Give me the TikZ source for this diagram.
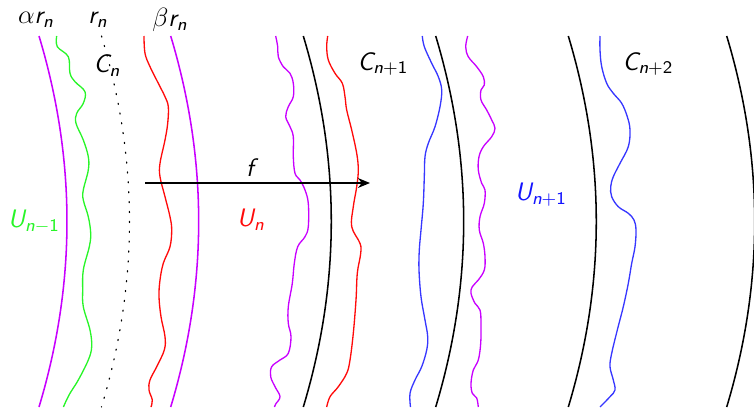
\documentclass[tikz,border=0pt]{standalone}
\usepackage{amstext}
\usetikzlibrary{arrows.meta}
\definecolor{mag}{RGB}{200,0,255}
\definecolor{grn}{RGB}{40,245,40}
\definecolor{redc}{RGB}{255,10,10}
\definecolor{blu}{RGB}{55,55,255}
\definecolor{blul}{RGB}{20,20,255}
\newcommand\sv[1]{\textsf{\itshape #1}}
\begin{document}
\begin{tikzpicture}[x=0.4545pt,y=-0.4545pt,
  arcline/.style={line width=0.7pt},
  lab/.style={font=\fontsize{11.5}{13}\selectfont, inner sep=0pt},
  dotline/.style={line width=0.55pt, dash pattern=on 0.5pt off 4pt, line cap=round}]
\useasboundingbox (0,0) rectangle (754,407);
% circular boundaries
\draw[arcline, mag] (39,36) .. controls (76.3,159.7) and (76.3,283.3) .. (39,407);
\draw[dotline] (101.5,36) .. controls (138.8,159.7) and (138.8,283.3) .. (101.5,407);
\draw[arcline, mag] (170.7,36) .. controls (208,159.7) and (208,283.3) .. (170.7,407);
\draw[arcline] (303.3,36) .. controls (340.6,159.7) and (340.6,283.3) .. (303.3,407);
\draw[arcline] (435.7,36) .. controls (473,159.7) and (473,283.3) .. (435.7,407);
\draw[arcline] (568.3,36) .. controls (605.6,159.7) and (605.6,283.3) .. (568.3,407);
\draw[arcline] (726.7,36) .. controls (764,159.7) and (764,283.3) .. (726.7,407);
% wavy curves
\draw[grn, line width=0.6pt] plot[smooth, tension=0.6] coordinates {(56.7,36) (57.3,46.7) (68.3,56.7) (70,73.3) (75,81.7) (85,91.7) (83.3,103.3) (76.7,113.3) (76,123.3) (83.3,140) (88.3,156.7) (88.3,170) (83.3,190) (83.3,200) (88.3,216.7) (90.7,233.3) (89.3,246.7) (83.3,270) (82.7,290) (83.3,306.7) (90,330) (91.7,346.7) (88.3,360) (78.3,380) (70,393.3) (65,403.3) (63.5,407)};
\draw[redc, line width=0.6pt] plot[smooth, tension=0.6] coordinates {(144,36) (145,53.3) (150,66.7) (158.3,83.3) (165,96.7) (168.3,106.7) (167.7,123.3) (165,140) (160,163.3) (160,176.7) (165,196.7) (170,216.7) (171.7,230) (170,246.7) (163.3,263.3) (160,280) (159,296.7) (161,316.7) (165,336.7) (164.3,350) (156.7,366.7) (150,380) (149,390) (152.3,400) (151,407)};
\draw[mag, line width=0.6pt] plot[smooth, tension=0.6] coordinates {(275.7,36) (277.7,46.7) (278.3,56.7) (283.3,66.7) (290,73.3) (293.3,83.3) (293.3,96.7) (288.3,106.7) (285.7,116.7) (290,126.7) (293.3,136.7) (293.3,156.7) (295,173.3) (300,180) (305,190) (308.3,203.3) (308.3,226.7) (305,236.7) (297.7,246.7) (294.3,263.3) (292.3,283.3) (288.3,306.7) (288.3,323.3) (291,336.7) (288.3,353.3) (280,360) (271.7,366.7) (270.7,376.7) (275,386.7) (280,396.7) (275.7,404) (274.5,407)};
\draw[redc, line width=0.6pt] plot[smooth, tension=0.6] coordinates {(327.7,36) (326.7,46.7) (328.3,60) (335,73.3) (342.3,83.3) (345,96.7) (346.7,110) (351.7,130) (356.7,153.3) (358.3,170) (356.7,186.7) (353.3,206.7) (351.7,226.7) (360,243.3) (360.7,253.3) (357.3,273.3) (356,300) (353.3,333.3) (350,360) (346.7,373.3) (338.3,386.7) (330,396.7) (326.7,407)};
\draw[blu, line width=0.6pt] plot[smooth, tension=0.6] coordinates {(422.3,36) (424.3,46.7) (431.7,63.3) (438.3,76.7) (441.7,90) (440,106.7) (435,126.7) (428.3,143.3) (425,156.7) (424.3,176.7) (423.3,203.3) (421,230) (419.3,250) (419,270) (421,296.7) (425,320) (427.7,336.7) (426.7,350) (421.7,366.7) (415,380) (410,393.3) (410.5,407)};
\draw[mag, line width=0.6pt] plot[smooth, tension=0.6] coordinates {(467.7,36) (465.7,46.7) (468.3,56.7) (476.7,66.7) (483.3,76.7) (484.3,85) (481,90) (481,100) (486.7,110) (491.7,120) (495,128.3) (491.7,136.7) (483.3,146.7) (479,156.7) (478.3,170) (481.7,183.3) (485,190) (484.3,203.3) (480,216.7) (479.3,230) (483.3,243.3) (485,256.7) (484.3,270) (478.3,280) (472.3,286.7) (471,293.3) (475,303.3) (480,310) (481,323.3) (480.7,343.3) (478.3,360) (473.3,370) (471,383.3) (472.3,393.3) (476.7,398) (478.3,407)};
\draw[blu, line width=0.6pt] plot[smooth, tension=0.6] coordinates {(600,36) (600,50) (601.7,66.7) (606.7,83.3) (613.3,93.3) (621.7,103.3) (627.3,116.7) (630,130) (628.3,146.7) (620,163.3) (613.3,176.7) (610.7,186.7) (611.7,196.7) (618.3,206.7) (628.3,213.3) (634,220) (636,230) (635,246.7) (631.7,263.3) (628.3,283.3) (623.3,306.7) (617.3,330) (611.7,353.3) (610,366.7) (613.3,380) (615,390) (610,396.7) (600,407)};
% map f
\coordinate (fs) at (145,183);
\coordinate (fe) at (370,183);
\draw[line width=0.7pt, -{Stealth[length=5.5pt,width=4.5pt]}] (fs) -- (fe);
\node[lab] (flab) at (250,168) {$\sv{f}$};
% labels
\node[lab] (lalpha) at (36,20) {$\alpha\sv{r}_{\sv{n}}$};
\node[lab] (lr) at (98,20) {$\sv{r}_{\sv{n}}$};
\node[lab] (lbeta) at (170,20) {$\beta\sv{r}_{\sv{n}}$};
\node[lab] (lcn) at (107,66) {$\sv{C}_{\sv{n}}$};
\node[lab] (lcn1) at (383,64) {$\sv{C}_{\sv{n}\textsf{+1}}$};
\node[lab] (lcn2) at (648,64) {$\sv{C}_{\sv{n}\textsf{+2}}$};
\node[lab, text=grn] (lun0) at (34,222) {$\sv{U}_{\sv{n}-\textsf{1}}$};
\node[lab, text=redc] (lun) at (251,220) {$\sv{U}_{\sv{n}}$};
\node[lab, text=blul] (lun2) at (541,195) {$\sv{U}_{\sv{n}\textsf{+1}}$};
\end{tikzpicture}
\end{document}
